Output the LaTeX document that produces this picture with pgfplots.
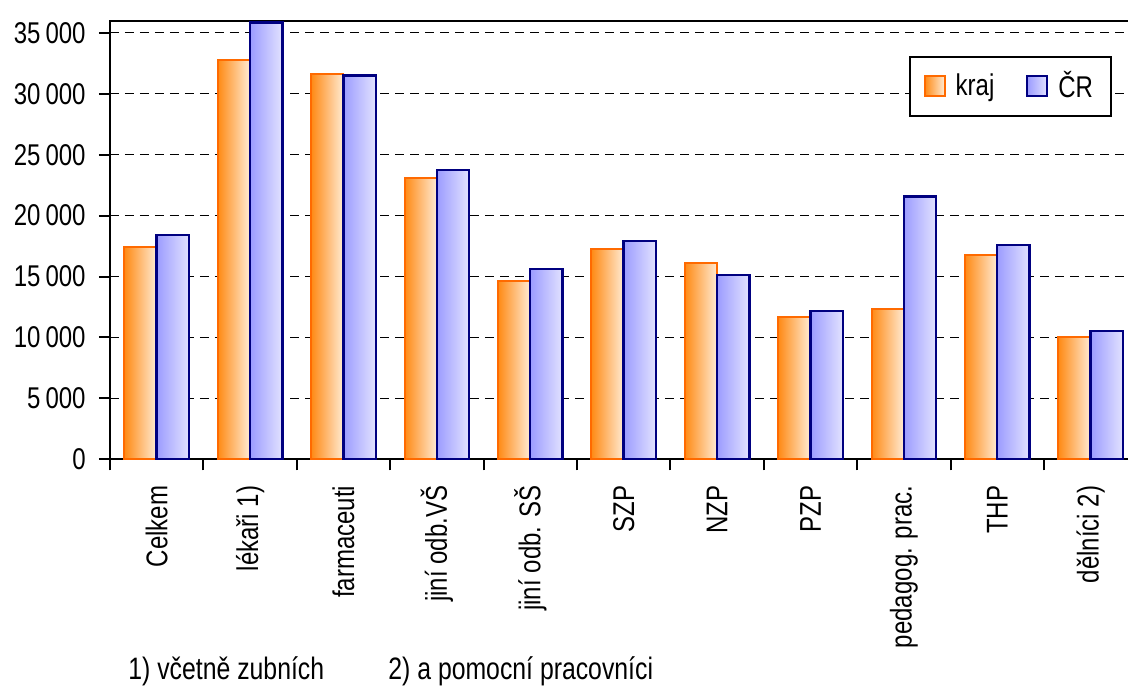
\documentclass[border=0pt]{standalone}
\usepackage{fontspec}
\setmainfont{Liberation Sans}[FakeStretch=0.80]
\usepackage{pgfplots}
\usepackage{pgfplotstable}
\pgfplotsset{compat=1.18}

\definecolor{orL}{HTML}{FF8A14}
\definecolor{orM}{HTML}{FFD3A2}
\definecolor{orR}{HTML}{FFEBD4}
\definecolor{orE}{HTML}{FF6A00}
\definecolor{blL}{HTML}{9C9CFF}
\definecolor{blM}{HTML}{C6C6FF}
\definecolor{blR}{HTML}{E2E2FF}
\definecolor{blE}{HTML}{000080}

% average wage by profession group: region (kraj) and country (CR)
\pgfplotstableread{
x kraj cr
0  17420 18430
1  32800 35850
2  31650 31500
3  23080 23740
4  14650 15640
5  17280 17940
6  16150 15120
7  11690 12190
8  12350 21580
9  16790 17600
10 10050 10550
}\wages

\pgfplotsset{
    krajbar/.style={draw=orE, line width=1pt, left color=orL, middle color=orM, right color=orR},
    crbar/.style={draw=blE, line width=1.2pt, left color=blL, middle color=blM, right color=blR},
}

\begin{document}
\fontsize{15}{18}\selectfont
\begin{tikzpicture}
\begin{axis}[
    scale only axis,
    width=511.35pt, height=219.3pt,
    xmin=-0.5, xmax=10.45,
    ymin=0, ymax=36000,
    ybar, bar width=0.346,
    axis line style={black, line width=1pt},
    tick pos=left, tick align=outside,
    major tick length=5.5pt,
    tick style={black, line width=1pt},
    xtick={-0.5,0.5,...,9.5},
    xticklabels={,,,,,,,,,,},
    extra x ticks={0,1,...,10},
    extra x tick labels={Celkem, lékaři 1), farmaceuti, jiní odb.VŠ, jiní odb. SŠ, SZP, NZP, PZP, pedagog. prac., THP, dělníci 2)},
    extra x tick style={major tick length=0pt},
    xticklabel style={yshift=-8pt, rotate=90, anchor=east},
    ytick={0,5000,...,35000},
    scaled y ticks=false,
    yticklabel style={xshift=-1.5pt, /pgf/number format/.cd, 1000 sep={\,}, assume math mode=true},
    ymajorgrids,
    grid style={black, line width=0.5pt, dash pattern=on 4.5pt off 3pt},
    legend columns=2,
    legend style={at={(axis cs:9.14,30600)}, anchor=center, draw=black, line width=1pt,
        inner xsep=7pt, inner ysep=5pt,
        /tikz/every odd column/.append style={column sep=3pt},
        /tikz/every even column/.append style={column sep=14pt}},
    legend image code/.code={\draw[#1, line width=1pt] (0pt,-5pt) rectangle (10pt,5pt);},
]
\pgfplotsinvokeforeach{0,...,10}{
    \addplot[forget plot, bar shift=-0.173, krajbar,
        restrict expr to domain={\coordindex}{#1:#1}] table[x=x, y=kraj] {\wages};
    \addplot[forget plot, bar shift=0.173, crbar,
        restrict expr to domain={\coordindex}{#1:#1}] table[x=x, y=cr] {\wages};
}
\addlegendimage{krajbar}
\addlegendentry{kraj}
\addlegendimage{crbar}
\addlegendentry{ČR}
\end{axis}
\node[anchor=west, font=\fontsize{15.5}{18}\selectfont] at (4pt,-106pt) {1) včetně zubních};
\node[anchor=west, font=\fontsize{15.5}{18}\selectfont] at (134pt,-106pt) {2) a pomocní pracovníci};
\pgfresetboundingbox
\path[use as bounding box] (-55pt,-114.35pt) rectangle (509pt,229.65pt);
\end{tikzpicture}
\end{document}
